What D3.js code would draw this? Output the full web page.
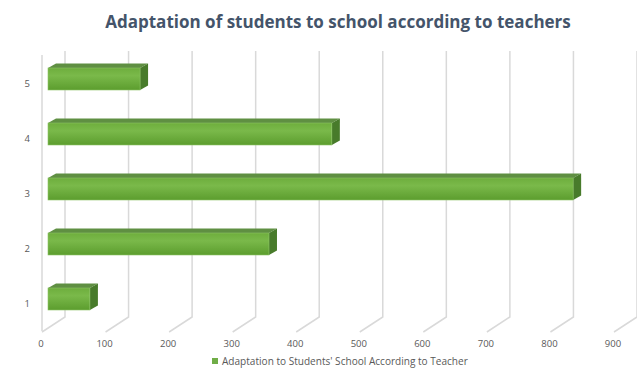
<!DOCTYPE html>
<html>
<head>
<meta charset="utf-8">
<script src="https://cdn.jsdelivr.net/npm/d3@7"></script>
<style>
  html, body { margin: 0; padding: 0; background: #ffffff; }
  svg { display: block; }
</style>
</head>
<body>
<svg id="chart" width="637" height="369"></svg>
<script>
// ---- data ----
const categories = ["5", "4", "3", "2", "1"];
const values = [145, 447, 827, 348, 66];
const xTicks = [0, 100, 200, 300, 400, 500, 600, 700, 800, 900];
const titleText = "Adaptation of students to school according to teachers";
const seriesName = "Adaptation to Students' School According to Teacher";

const svg = d3.select("#chart");
const W = 637, H = 369;
const fontFam = "'Open Sans', 'Liberation Sans', sans-serif";

// scales (front plane, back wall, bar plane)
const xFront = d3.scaleLinear().domain([0, 900]).range([41, 613]);
const xBack = d3.scaleLinear().domain([0, 900]).range([65, 637]);
const xBar = d3.scaleLinear().domain([0, 900]).range([48, 619.5]);
const yBand = d3.scaleBand().domain(categories).range([51.5, 326.5]).paddingInner(0.6).paddingOuter(0.3);

const backTop = 51, backBottom = 317, frontBottom = 332;
const gridColor = "#d9d9d9";

// defs: gradient for bar front
const defs = svg.append("defs");
const grad = defs.append("linearGradient").attr("id", "barGrad").attr("x1", 0).attr("y1", 0).attr("x2", 0).attr("y2", 1);
grad.append("stop").attr("offset", "0%").attr("stop-color", "#6eae3d");
grad.append("stop").attr("offset", "35%").attr("stop-color", "#7ab94a");
grad.append("stop").attr("offset", "100%").attr("stop-color", "#5c9d2e");

// left side wall front edge
svg.append("line")
  .attr("x1", 42).attr("x2", 42).attr("y1", 55).attr("y2", frontBottom - 1)
  .attr("stroke", gridColor).attr("stroke-width", 1.5);

// gridlines on back wall + floor diagonals
const grid = svg.append("g");
xTicks.forEach(t => {
  grid.append("polyline")
    .attr("points", [[xBack(t), backTop], [xBack(t), backBottom], [xFront(t) + 1, frontBottom]].map(p => p.join(",")).join(" "))
    .attr("fill", "none").attr("stroke", gridColor).attr("stroke-width", 1.5);
});

// x tick labels
svg.append("g").selectAll("text").data(xTicks).join("text")
  .attr("x", d => xFront(d)).attr("y", 347)
  .attr("text-anchor", "middle")
  .attr("font-family", fontFam).attr("font-size", 9.5).attr("fill", "#595959")
  .text(d => d);

// category labels
svg.append("g").selectAll("text").data(categories).join("text")
  .attr("x", 30).attr("y", d => yBand(d) + yBand.bandwidth() / 2 + 8)
  .attr("text-anchor", "end")
  .attr("font-family", fontFam).attr("font-size", 9.5).attr("fill", "#595959")
  .text(d => d);

// 3D bars
const dx = 8, dy = -4.5;
const bars = svg.append("g");
categories.forEach((c, i) => {
  const v = values[i];
  const x0 = xBar(0), x1 = xBar(v);
  const y = yBand(c), h = yBand.bandwidth();
  const g = bars.append("g");
  // top face
  g.append("polygon")
    .attr("points", [[x0, y], [x0 + dx, y + dy], [x1 + dx, y + dy], [x1, y]].map(p => p.join(",")).join(" "))
    .attr("fill", "#5f8f42");
  // side face
  g.append("polygon")
    .attr("points", [[x1, y], [x1 + dx, y + dy], [x1 + dx, y + h + dy], [x1, y + h]].map(p => p.join(",")).join(" "))
    .attr("fill", "#487b2b");
  // front face
  g.append("rect")
    .attr("x", x0).attr("y", y).attr("width", x1 - x0).attr("height", h)
    .attr("fill", "url(#barGrad)")
    .attr("stroke", "#8cc464").attr("stroke-width", 0.6);
});

// title
const title = svg.append("text")
  .attr("x", 338).attr("y", 28)
  .attr("text-anchor", "middle")
  .attr("font-family", fontFam).attr("font-weight", "bold").attr("font-size", 16)
  .attr("fill", "#44546a")
  .text(titleText);
{
  const w = title.node().getComputedTextLength();
  title.attr("font-size", 16 * 466 / w);
}

// legend
const leg = svg.append("g");
leg.append("rect").attr("x", 212).attr("y", 358).attr("width", 6).attr("height", 6).attr("fill", "#70ad47");
const legText = leg.append("text")
  .attr("x", 222).attr("y", 365)
  .attr("font-family", fontFam).attr("font-size", 9.5).attr("fill", "#595959")
  .text(seriesName);
{
  const w = legText.node().getComputedTextLength();
  legText.attr("font-size", 9.5 * 246 / w);
}
</script>
</body>
</html>
